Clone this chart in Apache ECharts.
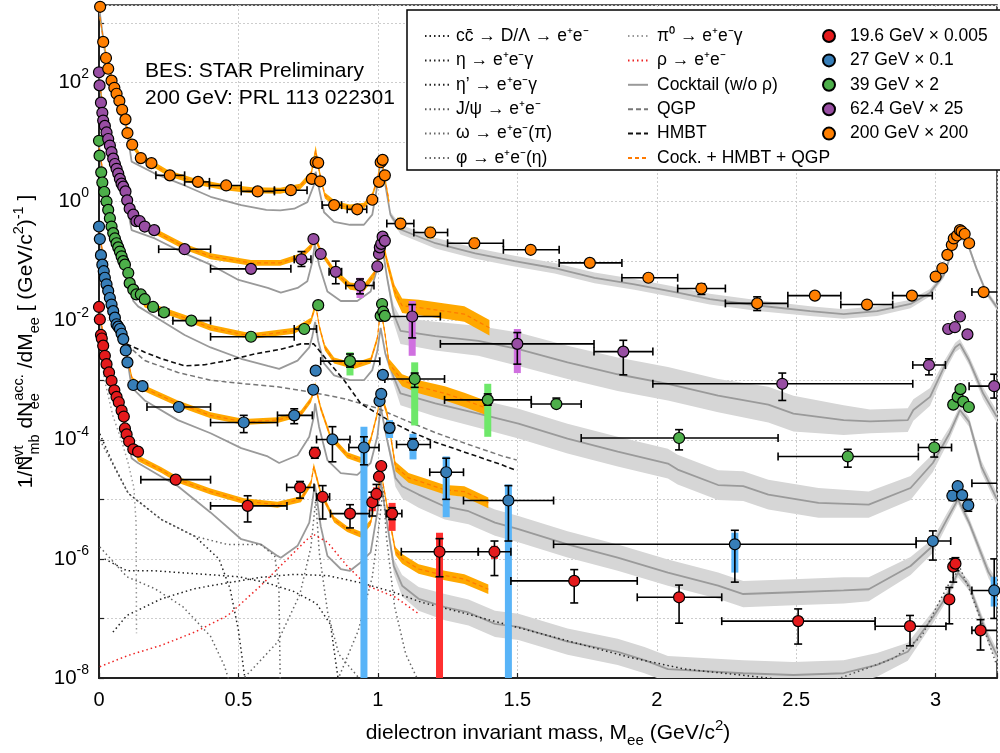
<!DOCTYPE html>
<html><head><meta charset="utf-8">
<script src="https://cdn.jsdelivr.net/npm/echarts@6/dist/echarts.min.js"></script>
<style>html,body{margin:0;padding:0;background:#fff}#c{width:1000px;height:753px}</style>
</head><body><div id="c"></div>
<script>
// All yields below are log10( 1/N dN/dM ); masses in GeV/c^2.
const xTickLabels = ['0','0.5','1','1.5','2','2.5','3'];
const yLabelExps = [-8,-6,-4,-2,0,2];

// ---------- 19.6 GeV x 0.005 ----------
const e196Pts = [[0.0,-1.77],[0.003,-1.98],[0.007,-2.24],[0.01,-2.30],[0.015,-2.42],[0.021,-2.59],[0.027,-2.73],[0.036,-2.87],[0.045,-3.01],[0.055,-3.17],[0.063,-3.28],[0.071,-3.37],[0.081,-3.51],[0.089,-3.61],[0.093,-3.81],[0.099,-3.91],[0.108,-4.03],[0.123,-4.16],[0.14,-4.20],[1.004,-4.62],[1.012,-4.44]];
// [m, y, yLow, yHigh, mLow, mHigh]
const e196Bins = [[0.275,-4.67,-4.71,-4.63,0.15,0.40],[0.533,-5.11,-5.38,-4.94,0.40,0.674],[0.721,-4.80,-4.98,-4.70,0.673,0.771],[0.774,-4.22,-4.31,-4.13,0.774,0.774],[0.802,-4.96,-5.33,-4.77,0.78,0.827],[0.90,-5.24,-5.48,-5.09,0.83,0.97],[0.98,-5.05,-5.28,-4.88,0.98,0.98],[0.995,-4.91,-5.10,-4.75,0.995,0.995],[1.051,-5.24,-5.34,-5.14,1.03,1.086],[1.221,-5.88,-6.30,-5.66,1.084,1.36],[1.418,-5.88,-6.28,-5.70,1.36,1.477],[1.704,-6.37,-6.74,-6.18,1.477,1.93],[2.08,-6.645,-7.08,-6.44,1.93,2.233],[2.507,-7.045,-7.43,-6.84,2.233,2.783],[2.908,-7.13,-7.46,-6.95,2.783,3.037],[3.049,-6.68,-7.09,-6.48,3.049,3.049],[3.063,-6.13,-6.39,-6.00,3.063,3.063],[3.071,-6.08,-6.20,-5.98,3.071,3.071],[3.161,-7.20,-7.53,-7.02,3.13,3.30]];
const e196Sys = [[0.98,-4.95,-5.2],[0.995,-4.8,-5.02],[1.051,-5.06,-5.53],[1.221,-5.56,-8.0],[1.418,-5.78,-6.0],[1.704,-6.3,-6.45],[3.049,-6.6,-6.75]];
// [m, y, band half-width]
const e196Cocktail = [[0.0,-1.8,0],[0.02,-2.55,0],[0.05,-3.1,0],[0.08,-3.5,0],[0.1,-3.9,0],[0.117,-4.31,0],[0.14,-4.39,0],[0.224,-4.62,0],[0.283,-4.78,0],[0.40,-5.22,0],[0.51,-5.67,0],[0.58,-5.755,0],[0.64,-5.95,0],[0.652,-5.98,0],[0.712,-5.78,0],[0.754,-5.39,0],[0.774,-4.75,0],[0.795,-5.45,0],[0.819,-5.95,0],[0.867,-6.17,0],[0.90,-6.2,0],[0.938,-6.06,0],[0.974,-5.89,0],[0.998,-5.22,0],[1.01,-4.67,0],[1.027,-5.22,0.03],[1.057,-6.12,0.12],[1.087,-6.45,0.18],[1.146,-6.67,0.2],[1.24,-6.81,0.22],[1.325,-6.9,0.22],[1.42,-7.09,0.22],[1.504,-7.14,0.22],[1.68,-7.39,0.22],[1.86,-7.56,0.22],[1.956,-7.70,0.22],[2.04,-7.85,0.22],[2.31,-7.92,0.22],[2.49,-7.95,0.22],[2.67,-7.92,0.22],[2.79,-7.78,0.2],[2.90,-7.56,0.15],[2.99,-6.98,0.1],[3.04,-6.62,0.08],[3.08,-6.23,0.08],[3.12,-6.45,0.08],[3.19,-7.34,0.1],[3.22,-7.62,0.1]];
const e196Model = [[0.0,-1.85,0.03],[0.05,-3.05,0.03],[0.1,-3.9,0.04],[0.14,-4.31,0.05],[0.224,-4.51,0.05],[0.283,-4.67,0.05],[0.40,-4.87,0.05],[0.52,-5.03,0.05],[0.64,-5.09,0.05],[0.724,-5.0,0.05],[0.76,-4.73,0.05],[0.77,-4.45,0.06],[0.795,-4.89,0.05],[0.843,-5.34,0.05],[0.89,-5.5,0.05],[0.938,-5.59,0.05],[0.974,-5.39,0.05],[0.998,-4.89,0.05],[1.012,-4.56,0.05],[1.033,-5.12,0.06],[1.063,-5.87,0.07],[1.087,-6.0,0.08],[1.146,-6.17,0.08],[1.24,-6.28,0.08],[1.31,-6.34,0.08],[1.396,-6.51,0.08]];

// ---------- 27 GeV x 0.1 ----------
const e27Pts = [[0.0,-0.42],[0.003,-0.63],[0.007,-0.90],[0.012,-1.06],[0.017,-1.17],[0.021,-1.28],[0.027,-1.39],[0.033,-1.50],[0.039,-1.62],[0.045,-1.73],[0.051,-1.84],[0.057,-1.95],[0.063,-2.06],[0.069,-2.10],[0.075,-2.14],[0.081,-2.22],[0.087,-2.31],[0.096,-2.50],[0.102,-2.70],[0.123,-3.08],[0.156,-3.10],[0.768,-3.16],[0.777,-2.84],[1.006,-3.35],[1.012,-3.23],[1.018,-2.91]];
const e27Bins = [[0.286,-3.45,-3.50,-3.40,0.172,0.40],[0.519,-3.71,-3.88,-3.59,0.40,0.64],[0.70,-3.59,-3.73,-3.48,0.64,0.765],[0.837,-3.995,-4.37,-3.78,0.78,0.90],[0.95,-4.13,-4.42,-3.95,0.896,1.004],[1.042,-3.80,-3.88,-3.72,1.03,1.055],[1.126,-4.08,-4.17,-3.98,1.067,1.188],[1.245,-4.545,-5.00,-4.31,1.186,1.307],[1.468,-5.02,-5.70,-4.77,1.307,1.63],[2.28,-5.755,-6.39,-5.52,1.63,2.93],[2.99,-5.70,-6.02,-5.53,2.93,3.054],[3.06,-4.94,-5.02,-4.86,3.06,3.06],[3.079,-4.78,-4.84,-4.72,3.079,3.079],[3.095,-4.93,-5.0,-4.86,3.095,3.095],[3.117,-5.10,-5.2,-5.0,3.117,3.117],[3.21,-6.53,-7.0,-6.0,3.13,3.30]];
const e27Sys = [[1.042,-3.67,-3.97],[1.126,-3.9,-4.33],[0.95,-3.78,-8.0],[1.245,-4.28,-5.3],[1.468,-4.75,-8.0],[2.28,-5.56,-6.23],[3.21,-6.3,-6.8]];
const e27Cocktail = [[0.0,-0.45,0],[0.02,-1.25,0],[0.05,-1.8,0],[0.08,-2.2,0],[0.1,-2.6,0],[0.117,-3.12,0],[0.164,-3.34,0],[0.283,-3.67,0],[0.40,-3.89,0],[0.51,-4.14,0],[0.605,-4.28,0],[0.646,-4.39,0],[0.712,-4.26,0],[0.754,-3.95,0],[0.77,-3.62,0],[0.775,-3.39,0],[0.789,-3.78,0],[0.819,-4.34,0],[0.867,-4.56,0],[0.926,-4.59,0],[0.974,-4.39,0],[0.998,-3.95,0],[1.01,-3.45,0],[1.033,-4.0,0.05],[1.063,-4.64,0.15],[1.087,-4.78,0.2],[1.146,-4.92,0.22],[1.24,-5.12,0.22],[1.325,-5.2,0.22],[1.42,-5.39,0.22],[1.504,-5.5,0.22],[1.68,-5.755,0.22],[1.86,-5.98,0.22],[2.04,-6.23,0.22],[2.22,-6.45,0.22],[2.31,-6.59,0.22],[2.49,-6.56,0.22],[2.67,-6.53,0.22],[2.76,-6.51,0.2],[2.91,-6.12,0.15],[2.99,-5.78,0.12],[3.04,-5.34,0.1],[3.08,-5.0,0.08],[3.12,-5.39,0.08],[3.19,-6.23,0.1],[3.22,-6.45,0.1]];
const e27Model = [[0.0,-0.5,0.03],[0.05,-1.8,0.03],[0.1,-2.6,0.04],[0.12,-3.0,0.05],[0.164,-3.14,0.05],[0.283,-3.39,0.05],[0.40,-3.59,0.05],[0.52,-3.70,0.05],[0.64,-3.67,0.05],[0.724,-3.56,0.05],[0.76,-3.33,0.05],[0.775,-3.09,0.06],[0.795,-3.47,0.05],[0.83,-3.95,0.05],[0.89,-4.26,0.05],[0.938,-4.34,0.05],[0.974,-4.0,0.05],[0.998,-3.56,0.05],[1.01,-3.22,0.05],[1.033,-3.56,0.06],[1.063,-4.45,0.08],[1.11,-4.64,0.08],[1.17,-4.73,0.08],[1.24,-4.84,0.08],[1.31,-4.87,0.09],[1.396,-5.06,0.09]];

// ---------- 39 GeV x 2 ----------
const e39Pts = [[0.0,1.02],[0.002,0.77],[0.008,0.49],[0.012,0.32],[0.019,0.16],[0.027,0.0],[0.033,-0.14],[0.039,-0.28],[0.045,-0.42],[0.051,-0.53],[0.057,-0.62],[0.063,-0.70],[0.069,-0.77],[0.075,-0.84],[0.081,-0.92],[0.087,-1.00],[0.093,-1.06],[0.105,-1.20],[0.11,-1.37],[0.123,-1.48],[0.134,-1.56],[0.15,-1.56],[0.164,-1.64],[0.194,-1.77],[0.786,-1.74],[1.01,-1.92],[1.015,-1.72],[1.019,-1.85],[1.025,-1.92],[3.063,-3.41],[3.079,-3.28],[3.089,-3.15],[3.099,-3.36],[3.119,-3.45]];
const e39Bins = [[0.233,-1.86,-1.90,-1.82,0.215,0.25],[0.331,-2.00,-2.04,-1.96,0.265,0.40],[0.545,-2.27,-2.31,-2.23,0.40,0.70],[0.736,-2.14,-2.18,-2.10,0.70,0.78],[0.90,-2.68,-2.78,-2.56,0.795,1.007],[1.132,-2.98,-3.12,-2.88,1.025,1.239],[1.394,-3.33,-3.42,-3.23,1.239,1.55],[1.64,-3.40,-3.45,-3.30,1.55,1.729],[2.08,-3.97,-4.17,-3.83,1.729,2.435],[2.685,-4.28,-4.46,-4.16,2.435,2.938],[2.995,-4.13,-4.29,-4.00,2.938,3.057],[3.25,-4.73,-4.90,-4.60,3.13,3.40]];
const e39Sys = [[0.90,-2.53,-2.92],[1.132,-2.70,-3.76],[1.394,-3.06,-3.95],[1.64,-3.33,-3.48],[2.08,-3.90,-4.05],[2.995,-4.08,-4.20]];
const e39Cocktail = [[0.0,0.95,0],[0.02,0.1,0],[0.05,-0.5,0],[0.08,-0.9,0],[0.1,-1.2,0],[0.123,-1.67,0],[0.14,-1.76,0],[0.224,-2.0,0],[0.307,-2.24,0],[0.40,-2.45,0],[0.51,-2.64,0],[0.605,-2.76,0],[0.646,-2.81,0],[0.712,-2.67,0],[0.754,-2.45,0],[0.765,-2.26,0],[0.775,-2.02,0],[0.786,-2.34,0],[0.807,-2.72,0],[0.843,-2.92,0],[0.90,-3.0,0],[0.95,-3.0,0],[0.98,-2.83,0],[0.998,-2.51,0],[1.01,-2.12,0],[1.027,-2.56,0.05],[1.057,-2.95,0.12],[1.081,-3.22,0.2],[1.206,-3.39,0.22],[1.36,-3.56,0.24],[1.504,-3.73,0.25],[1.68,-3.98,0.25],[1.86,-4.2,0.25],[2.04,-4.4,0.25],[2.075,-4.5,0.25],[2.22,-4.76,0.25],[2.31,-4.78,0.25],[2.40,-4.92,0.25],[2.58,-5.06,0.25],[2.76,-5.09,0.22],[2.91,-4.81,0.2],[2.99,-4.39,0.15],[3.05,-3.89,0.1],[3.087,-3.5,0.08],[3.12,-3.7,0.08],[3.164,-4.45,0.1],[3.22,-5.0,0.1]];
const e39Model = [[0.0,0.9,0.03],[0.05,-0.48,0.03],[0.1,-1.2,0.04],[0.164,-1.73,0.05],[0.20,-1.78,0.05],[0.307,-1.95,0.05],[0.40,-2.12,0.05],[0.545,-2.26,0.05],[0.70,-2.17,0.05],[0.76,-2.0,0.05],[0.777,-1.73,0.06],[0.79,-2.1,0.05],[0.81,-2.45,0.05],[0.843,-2.67,0.05],[0.914,-2.76,0.05],[0.974,-2.67,0.05],[0.998,-2.3,0.05],[1.01,-1.8,0.05],[1.025,-2.2,0.06],[1.04,-2.72,0.08],[1.087,-3.0,0.1],[1.146,-3.11,0.11],[1.24,-3.22,0.12],[1.31,-3.33,0.12],[1.39,-3.47,0.12]];

// ---------- 62.4 GeV x 25 ----------
const e624Pts = [[0.0,2.17],[0.002,1.95],[0.007,1.66],[0.012,1.49],[0.015,1.36],[0.021,1.27],[0.027,1.16],[0.033,1.05],[0.039,0.94],[0.045,0.83],[0.051,0.72],[0.057,0.63],[0.063,0.55],[0.069,0.47],[0.075,0.38],[0.081,0.30],[0.087,0.25],[0.095,0.17],[0.101,0.02],[0.11,-0.12],[0.123,-0.22],[0.134,-0.33],[0.146,-0.33],[0.164,-0.42],[0.198,-0.48],[0.769,-0.63],[0.795,-0.88],[0.998,-1.09],[1.004,-0.88],[1.007,-0.77],[1.012,-0.71],[1.017,-0.59],[1.025,-0.66],[3.045,-2.14],[3.069,-2.11],[3.087,-1.93],[3.114,-2.23]];
const e624Bins = [[0.307,-0.80,-0.84,-0.76,0.214,0.40],[0.545,-1.13,-1.19,-1.07,0.40,0.688],[0.726,-0.97,-1.09,-0.84,0.70,0.76],[0.849,-1.18,-1.38,-1.00,0.825,0.87],[0.936,-1.41,-1.55,-1.30,0.885,0.986],[1.123,-1.93,-2.29,-1.73,1.02,1.224],[1.50,-2.39,-2.73,-2.20,1.224,1.775],[1.88,-2.52,-2.91,-2.33,1.775,1.986],[2.45,-3.06,-3.34,-2.88,1.986,2.918],[2.976,-2.745,-2.91,-2.64,2.918,3.035],[3.21,-3.10,-3.30,-2.90,3.12,3.30]];
const e624Sys = [[0.936,-1.28,-1.62],[1.123,-1.67,-2.59],[1.50,-2.14,-2.88],[1.88,-2.45,-2.62],[2.45,-3.0,-3.12]];
const e624Cocktail = [[0.0,2.1,0],[0.02,1.25,0],[0.05,0.72,0],[0.08,0.3,0],[0.1,-0.05,0],[0.117,-0.48,0],[0.2,-0.62,0],[0.307,-0.87,0],[0.40,-1.06,0],[0.497,-1.31,0],[0.605,-1.45,0],[0.652,-1.53,0],[0.712,-1.45,0],[0.747,-1.34,0],[0.765,-1.01,0],[0.774,-0.72,0],[0.789,-1.06,0],[0.819,-1.51,0],[0.867,-1.67,0],[0.926,-1.67,0],[0.974,-1.51,0],[0.998,-1.12,0],[1.012,-0.64,0],[1.033,-1.28,0.05],[1.057,-1.89,0.15],[1.081,-2.17,0.22],[1.206,-2.26,0.24],[1.36,-2.34,0.25],[1.504,-2.48,0.28],[1.68,-2.70,0.28],[1.86,-2.9,0.28],[2.04,-3.06,0.28],[2.22,-3.26,0.28],[2.40,-3.41,0.3],[2.49,-3.56,0.3],[2.67,-3.67,0.25],[2.765,-3.69,0.2],[2.90,-3.67,0.2],[2.92,-3.5,0.18],[2.98,-3.28,0.15],[3.03,-2.78,0.1],[3.07,-2.45,0.08],[3.087,-2.39,0.08],[3.12,-2.67,0.08],[3.17,-3.22,0.1],[3.22,-3.62,0.1]];
const e624Model = [[0.0,2.0,0.03],[0.05,0.75,0.03],[0.1,0.0,0.04],[0.14,-0.33,0.05],[0.2,-0.5,0.05],[0.307,-0.76,0.05],[0.40,-0.92,0.05],[0.545,-1.03,0.05],[0.65,-1.03,0.05],[0.724,-0.92,0.05],[0.76,-0.76,0.05],[0.774,-0.59,0.06],[0.795,-0.84,0.05],[0.843,-1.17,0.05],[0.90,-1.42,0.06],[0.95,-1.45,0.06],[0.986,-1.23,0.06],[1.007,-0.84,0.06],[1.015,-0.62,0.06],[1.033,-1.01,0.08],[1.06,-1.5,0.1],[1.087,-1.75,0.12],[1.146,-1.78,0.13],[1.24,-1.84,0.13],[1.31,-1.89,0.13],[1.40,-2.12,0.13]];

// ---------- 200 GeV x 200 ----------
const e200Pts = [[0.004,3.27],[0.015,2.68],[0.025,2.41],[0.033,2.23],[0.045,2.03],[0.055,1.91],[0.063,1.81],[0.073,1.69],[0.083,1.54],[0.095,1.38],[0.102,1.15],[0.119,0.955],[0.150,0.73],[0.188,0.645],[0.763,0.38],[0.777,0.66],[0.786,0.65],[0.793,0.34],[0.98,0.03],[1.004,0.33],[1.01,0.66],[1.017,0.70],[1.025,0.44],[3.0,-1.26],[3.024,-1.12],[3.042,-0.895],[3.058,-0.73],[3.065,-0.62],[3.077,-0.57],[3.087,-0.48],[3.093,-0.50],[3.104,-0.545],[3.12,-0.70]];
const e200Bins = [[0.254,0.44,0.40,0.48,0.204,0.307],[0.355,0.33,0.29,0.37,0.307,0.396],[0.456,0.27,0.23,0.31,0.396,0.51],[0.569,0.17,0.13,0.21,0.51,0.629],[0.688,0.19,0.15,0.23,0.629,0.746],[0.843,-0.06,-0.10,-0.02,0.80,0.87],[0.926,-0.13,-0.17,-0.09,0.89,0.96],[1.081,-0.37,-0.42,-0.32,1.032,1.129],[1.188,-0.52,-0.57,-0.47,1.129,1.25],[1.346,-0.70,-0.75,-0.65,1.25,1.45],[1.548,-0.81,-0.86,-0.76,1.45,1.65],[1.76,-1.03,-1.07,-0.99,1.65,1.875],[1.97,-1.28,-1.33,-1.23,1.875,2.075],[2.16,-1.46,-1.56,-1.38,2.075,2.246],[2.36,-1.71,-1.83,-1.60,2.246,2.47],[2.567,-1.58,-1.62,-1.54,2.47,2.66],[2.754,-1.73,-1.79,-1.67,2.66,2.846],[2.915,-1.58,-1.62,-1.54,2.846,2.988],[3.172,-1.52,-1.56,-1.48,3.13,3.30]];
const e200Sys = [[1.081,-0.27,-0.47],[1.188,-0.42,-0.62],[1.346,-0.6,-0.8],[1.548,-0.74,-0.88],[1.76,-0.98,-1.08],[2.16,-1.4,-1.52]];
const e200Cocktail = [[0.002,3.2,0],[0.02,2.55,0],[0.05,1.95,0],[0.08,1.55,0],[0.1,1.2,0],[0.117,0.67,0],[0.2,0.47,0],[0.307,0.27,0],[0.40,0.08,0],[0.51,-0.06,0],[0.60,-0.14,0],[0.65,-0.15,0],[0.70,-0.12,0],[0.747,-0.01,0],[0.77,0.27,0],[0.777,0.50,0],[0.785,0.30,0],[0.807,-0.18,0],[0.843,-0.34,0],[0.90,-0.39,0],[0.95,-0.39,0],[0.98,-0.22,0],[0.998,0.27,0],[1.01,0.72,0],[1.027,0.27,0],[1.045,-0.22,0.05],[1.081,-0.47,0.08],[1.206,-0.70,0.09],[1.349,-0.87,0.09],[1.49,-1.0,0.09],[1.634,-1.12,0.09],[1.777,-1.28,0.09],[1.92,-1.39,0.09],[2.075,-1.53,0.09],[2.19,-1.64,0.09],[2.37,-1.75,0.09],[2.55,-1.84,0.08],[2.67,-1.89,0.08],[2.79,-1.84,0.08],[2.91,-1.72,0.07],[2.98,-1.53,0.06],[3.03,-1.23,0.05],[3.063,-0.78,0.05],[3.087,-0.59,0.05],[3.11,-0.64,0.05],[3.146,-1.12,0.05],[3.18,-1.51,0.05],[3.22,-1.78,0.05]];
const e200Model = [[0.003,3.1,0.03],[0.02,2.6,0.03],[0.05,2.0,0.03],[0.08,1.6,0.03],[0.1,1.25,0.04],[0.12,0.95,0.05],[0.15,0.75,0.05],[0.25,0.47,0.05],[0.35,0.33,0.05],[0.45,0.24,0.05],[0.55,0.19,0.05],[0.65,0.18,0.05],[0.72,0.25,0.05],[0.76,0.45,0.06],[0.777,0.86,0.08],[0.79,0.5,0.06],[0.81,0.1,0.05],[0.85,-0.05,0.05],[0.9,-0.1,0.05],[0.95,-0.07,0.05],[0.98,0.1,0.05],[1.0,0.4,0.05],[1.012,0.75,0.05],[1.025,0.4,0.05],[1.04,0.0,0.05]];

// ---------- theory components ----------
const hmbtCurve = [[0.099,-2.39],[0.164,-2.53],[0.224,-2.64],[0.307,-2.76],[0.379,-2.74],[0.462,-2.67],[0.557,-2.56],[0.652,-2.48],[0.724,-2.39],[0.77,-2.39],[0.819,-2.67],[0.879,-3.0],[0.938,-3.39],[0.998,-3.56],[1.057,-3.72],[1.117,-3.86],[1.206,-4.04],[1.325,-4.23],[1.444,-4.42],[1.498,-4.52]];
const qgpCurve = [[0.099,-2.40],[0.164,-2.67],[0.283,-2.87],[0.40,-3.0],[0.52,-3.06],[0.64,-3.11],[0.76,-3.2],[0.879,-3.31],[0.998,-3.47],[1.087,-3.65],[1.206,-3.88],[1.325,-4.08],[1.444,-4.27],[1.498,-4.34]];
const ccbarCurve = [[0.05,-7.23],[0.1,-6.95],[0.224,-6.67],[0.343,-6.5],[0.462,-6.4],[0.58,-6.31],[0.70,-6.26],[0.819,-6.28],[0.938,-6.4],[1.057,-6.56],[1.157,-6.73],[1.3,-6.9],[1.5,-7.15],[1.7,-7.4],[1.9,-7.65],[2.1,-7.85],[2.3,-7.95],[2.5,-8.05]];
const etaCurve = [[0.003,-3.9],[0.05,-4.4],[0.105,-4.9],[0.224,-5.34],[0.343,-5.62],[0.43,-6.0],[0.47,-6.5],[0.5,-7.2],[0.52,-7.9],[0.53,-8.2]];
const etapCurve = [[0.02,-6.0],[0.1,-6.2],[0.2,-6.2],[0.35,-6.25],[0.5,-6.3],[0.6,-6.4],[0.7,-6.55],[0.78,-6.75],[0.83,-7.1],[0.86,-8.1]];
const jpsiCurve = [[2.6,-8.1],[2.85,-7.67],[2.95,-7.3],[3.015,-6.7],[3.05,-6.4],[3.087,-6.15],[3.12,-6.5],[3.16,-7.0],[3.22,-7.8]];
const omegaDalitz = [[0.003,-4.0],[0.105,-4.9],[0.224,-5.34],[0.343,-5.62],[0.462,-5.76],[0.58,-5.76],[0.63,-5.95],[0.645,-6.45],[0.65,-8.1]];
const omegaDirect = [[0.5,-8.1],[0.64,-7.4],[0.72,-6.6],[0.76,-5.8],[0.777,-5.0],[0.79,-5.9],[0.82,-6.9],[0.86,-7.6],[0.95,-8.1]];
const phiDalitz = [[0.003,-5.8],[0.1,-6.3],[0.2,-6.5],[0.3,-6.8],[0.4,-7.3],[0.45,-7.8],[0.47,-8.1]];
const phiDirect = [[0.85,-8.1],[0.93,-7.2],[0.98,-6.3],[1.005,-5.4],[1.019,-4.8],[1.03,-5.6],[1.06,-6.8],[1.1,-7.6],[1.15,-8.1]];
const pi0Curve = [[0.003,-2.4],[0.02,-3.0],[0.05,-3.6],[0.08,-4.0],[0.105,-4.4],[0.125,-4.8],[0.133,-5.4],[0.1345,-7.25]];
const rhoCurve = [[0.003,-7.81],[0.105,-7.62],[0.224,-7.45],[0.343,-7.23],[0.462,-6.95],[0.58,-6.45],[0.676,-6.0],[0.747,-5.67],[0.77,-5.59],[0.819,-5.72],[0.89,-6.12],[0.962,-6.45],[1.063,-6.645],[1.146,-6.92]];

const FONT = "'Liberation Sans', Arial, Helvetica, sans-serif";
const N = {
  cc: 'cc\u0304 \u2192 D/\u039B \u2192 e\u207Ae\u207B', eta: '\u03B7 \u2192 e\u207Ae\u207B\u03B3', etap: '\u03B7\u2019 \u2192 e\u207Ae\u207B\u03B3',
  jpsi: 'J/\u03C8 \u2192 e\u207Ae\u207B', omega: '\u03C9 \u2192 e\u207Ae\u207B(\u03C0)', phi: '\u03C6 \u2192 e\u207Ae\u207B(\u03B7)',
  pi0: '\u03C0\u2070 \u2192 e\u207Ae\u207B\u03B3', rho: '\u03C1 \u2192 e\u207Ae\u207B', cock: 'Cocktail (w/o \u03C1)', qgp: 'QGP', hmbt: 'HMBT', sum: 'Cock. + HMBT + QGP'
};

const series = [];
function addLine(name, pts, color, dash, width, z) {
  series.push({type:'line', name: name, data: pts.map(p => [p[0], p[1]]), symbol:'none', showSymbol:false,
    lineStyle:{color:color, type:dash, width:width}, itemStyle:{color:color}, z:z, silent:true, animation:false, clip:true});
}
function addBand(pts, color, z) {
  const band = pts.filter(p => p[2] > 0).map(p => [p[0], p[1] - p[2], p[1] + p[2]]);
  series.push({type:'custom', data: band, z:z, silent:true, animation:false, clip:true, encode:{x:0, y:[1,2]},
    renderItem: (params, api) => {
      if (params.dataIndex !== 0) return null;
      const up = band.map(b => api.coord([b[0], b[2]]));
      const dn = band.map(b => api.coord([b[0], b[1]])).reverse();
      return {type:'polygon', shape:{points: up.concat(dn)}, style:{fill:color}};
    }});
}
function addErr(bins, z) {
  series.push({type:'custom', data: bins, z:z, silent:true, animation:false, clip:true, encode:{x:0, y:1},
    renderItem: (params, api) => {
      const m = api.value(0), y = api.value(1), lo = api.value(2), hi = api.value(3), ml = api.value(4), mh = api.value(5);
      const c = api.coord([m, y]), a = api.coord([m, lo]), b = api.coord([m, hi]), l = api.coord([ml, y]), r = api.coord([mh, y]);
      const st = {stroke:'#000', lineWidth:1.6}; const k = 4; const ch = [];
      const seg = (x1, y1, x2, y2) => ch.push({type:'line', shape:{x1:x1, y1:y1, x2:x2, y2:y2}, style:st});
      if (Math.abs(a[1] - b[1]) > 1) { seg(c[0], a[1], c[0], b[1]); seg(c[0]-k, a[1], c[0]+k, a[1]); seg(c[0]-k, b[1], c[0]+k, b[1]); }
      if (Math.abs(r[0] - l[0]) > 1) { seg(l[0], c[1], r[0], c[1]); seg(l[0], c[1]-k, l[0], c[1]+k); seg(r[0], c[1]-k, r[0], c[1]+k); }
      return {type:'group', children: ch};
    }});
}
function addSys(sys, color, z) {
  series.push({type:'custom', data: sys, z:z, silent:true, animation:false, clip:true, encode:{x:0, y:[1,2]},
    renderItem: (params, api) => {
      const a = api.coord([api.value(0), api.value(1)]), b = api.coord([api.value(0), api.value(2)]);
      return {type:'rect', shape:{x:a[0]-3.5, y:Math.min(a[1], b[1]), width:7, height:Math.abs(b[1]-a[1])}, style:{fill:color}};
    }});
}
function addMarkers(name, pts, bins, color, z) {
  series.push({type:'scatter', name: name, data: pts.concat(bins.map(b => [b[0], b[1]])), symbol:'circle', symbolSize:11,
    itemStyle:{color:color, borderColor:'#000', borderWidth:1.2, opacity:1}, z:z, silent:true, animation:false});
}

const sets = [
  {name:'19.6 GeV \u00D7 0.005', color:'#e41a1c', sysColor:'#ff3030', pts:e196Pts, bins:e196Bins, sys:e196Sys, cock:e196Cocktail, model:e196Model},
  {name:'27 GeV \u00D7 0.1', color:'#377eb8', sysColor:'#58b4f8', pts:e27Pts, bins:e27Bins, sys:e27Sys, cock:e27Cocktail, model:e27Model},
  {name:'39 GeV \u00D7 2', color:'#4daf4a', sysColor:'#6ee86a', pts:e39Pts, bins:e39Bins, sys:e39Sys, cock:e39Cocktail, model:e39Model},
  {name:'62.4 GeV \u00D7 25', color:'#984ea3', sysColor:'#d070e0', pts:e624Pts, bins:e624Bins, sys:e624Sys, cock:e624Cocktail, model:e624Model},
  {name:'200 GeV \u00D7 200', color:'#ff7f00', sysColor:'#ffb000', pts:e200Pts, bins:e200Bins, sys:e200Sys, cock:e200Cocktail, model:e200Model}
];

sets.forEach(s => addBand(s.cock, '#d6d6d6', 1));
sets.forEach(s => addLine(N.cock, s.cock, '#9a9a9a', 'solid', 1.8, 2));
addLine(N.cc, ccbarCurve, '#222', [1.5, 3], 1.5, 2);
addLine(N.eta, etaCurve, '#222', [1.5, 3], 1.5, 2);
addLine(N.etap, etapCurve, '#222', [1.5, 3], 1.5, 2);
addLine(N.jpsi, jpsiCurve, '#555', [1.5, 3], 1.5, 2);
addLine(N.omega, omegaDalitz, '#666', [1.5, 3], 1.5, 2);
addLine(N.omega, omegaDirect, '#666', [1.5, 3], 1.5, 2);
addLine(N.phi, phiDalitz, '#666', [1.5, 3], 1.5, 2);
addLine(N.phi, phiDirect, '#666', [1.5, 3], 1.5, 2);
addLine(N.pi0, pi0Curve, '#999', [1.5, 3], 1.5, 2);
addLine(N.rho, rhoCurve, '#ee2222', [1.5, 3], 1.5, 2);
addLine(N.qgp, qgpCurve, '#777', [5, 3], 1.5, 3);
addLine(N.hmbt, hmbtCurve, '#111', [5, 3], 1.6, 3);
sets.forEach(s => addBand(s.model, '#ffa800', 4));
sets.forEach(s => addLine(N.sum, s.model, '#ff7a00', [4, 3], 1.2, 5));
sets.forEach(s => addSys(s.sys, s.sysColor, 6));
sets.forEach(s => addErr(s.bins, 7));
sets.forEach(s => addMarkers(s.name, s.pts, s.bins, s.color, 8));

const legendText = {fontSize:17.5, fontFamily:FONT, color:'#000', lineHeight:18};
const subSup = (va) => ({fontSize:14.5, fontFamily:FONT, color:'#000', verticalAlign:va, lineHeight:14.5});
const option = {
  animation: false,
  backgroundColor: '#fff',
  grid: {left:99, right:0, top:5, bottom:70, show:true, borderColor:'#222', borderWidth:1.5, backgroundColor:'transparent'},
  xAxis: {type:'value', min:0, max:3.22, interval:0.5,
    axisLine:{onZero:false, lineStyle:{color:'#222', width:2}},
    axisTick:{inside:true, length:5, lineStyle:{color:'#222', width:1.2}},
    splitLine:{show:true, lineStyle:{color:'#cdcdcd', type:[2,2], width:1}},
    axisLabel:{fontSize:20, fontFamily:FONT, color:'#000', margin:12,
      formatter: v => { const s = String(+(+v).toFixed(2)); return xTickLabels.includes(s) ? s : ''; }},
    name:'dielectron invariant mass, M{sb|ee} (GeV/c{sp|2})', nameLocation:'middle', nameGap:40,
    nameTextStyle:{fontSize:21, fontFamily:FONT, color:'#000', lineHeight:30,
      rich:{sb:{fontSize:15, fontFamily:FONT, color:'#000', verticalAlign:'bottom', lineHeight:15}, sp:{fontSize:15, fontFamily:FONT, color:'#000', verticalAlign:'top', lineHeight:15}}}},
  yAxis: {type:'value', min:-8, max:3.3, interval:1,
    axisLine:{onZero:false, lineStyle:{color:'#222', width:2}},
    axisTick:{inside:true, length:5, lineStyle:{color:'#222', width:1.2}},
    splitLine:{show:true, lineStyle:{color:'#cdcdcd', type:[2,2], width:1}},
    axisLabel:{margin:10, formatter: v => { const r = Math.round(v); return (Math.abs(v - r) < 1e-9 && yLabelExps.includes(r)) ? '{b|10}{s|' + r + '}' : ''; },
      rich:{b:{fontSize:20.5, fontFamily:FONT, color:'#000', lineHeight:30, verticalAlign:'middle'}, s:{fontSize:14, fontFamily:FONT, color:'#000', lineHeight:14, verticalAlign:'top'}}},
    name:'1/N{ev|evt}{mb|mb} dN{ee|ee}{ac|acc.} /dM{eb|ee} [ (GeV/c{sp|2}){sp|-1} ]', nameLocation:'middle', nameGap:57, nameRotate:90,
    nameTextStyle:{fontSize:21, fontFamily:FONT, color:'#000', lineHeight:31,
      rich:{ev:Object.assign(subSup('top'), {width:1}), mb:subSup('bottom'), ee:Object.assign(subSup('bottom'), {width:1}),
            ac:subSup('top'), eb:subSup('bottom'), sp:subSup('top')}}},
  legend: [
    {left:419, top:22, orient:'vertical', itemWidth:25, itemHeight:14, itemGap:6.4, selectedMode:false, z:30, itemStyle:{opacity:0},
      textStyle:Object.assign({padding:[0,0,0,1]}, legendText), data:[N.cc, N.eta, N.etap, N.jpsi, N.omega, N.phi]},
    {left:622, top:22, orient:'vertical', itemWidth:20, itemHeight:14, itemGap:6.4, selectedMode:false, z:30, itemStyle:{opacity:0},
      textStyle:Object.assign({padding:[0,0,0,4]}, legendText), data:[N.pi0, N.rho, N.cock, N.qgp, N.hmbt, N.sum]},
    {left:817, top:22, orient:'vertical', itemWidth:12, itemHeight:14, itemGap:6.4, selectedMode:false, z:30, icon:'circle',
      textStyle:Object.assign({padding:[0,0,0,10]}, legendText), data: sets.map(s => s.name)}
  ],
  graphic: [
    {type:'rect', z:25, shape:{x:407, y:10, width:600, height:160}, style:{fill:'#fff', stroke:'#000', lineWidth:1.5}},
    {type:'text', z:25, left:145, top:61, style:{text:'BES: STAR Preliminary', font:'21px ' + FONT, fill:'#000'}},
    {type:'text', z:25, left:145, top:88, style:{text:'200 GeV: PRL 113 022301', font:'21px ' + FONT, fill:'#000'}}
  ],
  series: series
};
const chart = echarts.init(document.getElementById('c'));
chart.setOption(option);
</script></body></html>
